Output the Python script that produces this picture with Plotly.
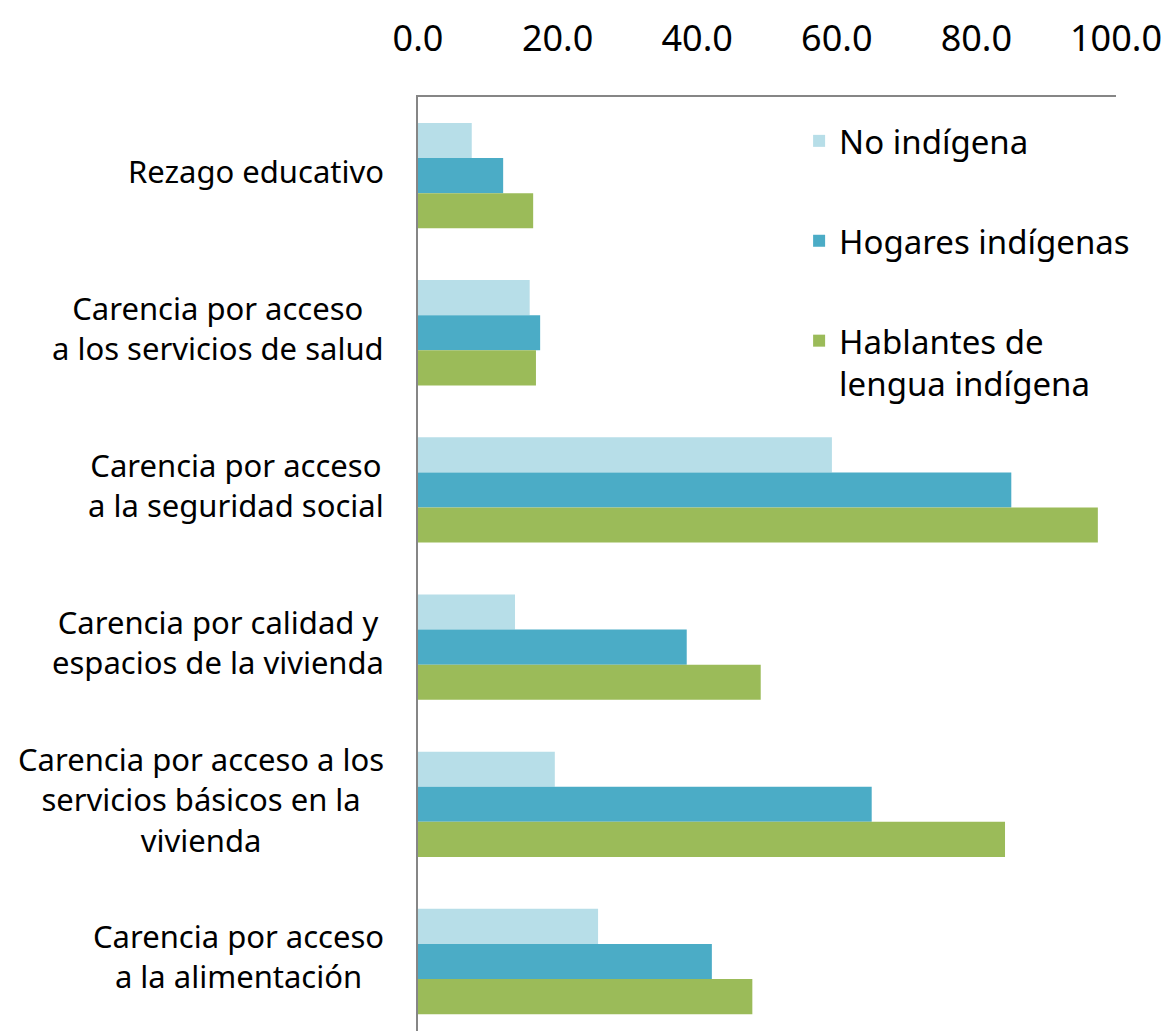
import plotly.graph_objects as go

categories = [
    "Rezago educativo",
    "Carencia por acceso<br>a los servicios de salud",
    "Carencia por acceso<br>a la seguridad social",
    "Carencia por calidad y<br>espacios de la vivienda",
    "Carencia por acceso a los<br>servicios básicos en la<br>vivienda",
    "Carencia por acceso<br>a la alimentación",
]
cat_ids = ["c0", "c1", "c2", "c3", "c4", "c5"]

no_indigena = [7.7, 16.0, 59.3, 13.9, 19.6, 25.8]
hogares_indigenas = [12.2, 17.5, 85.0, 38.5, 65.0, 42.1]
hablantes = [16.5, 16.9, 97.4, 49.1, 84.1, 47.9]

series_names = ["No indígena", "Hogares indígenas", "Hablantes de<br>lengua indígena"]
series_colors = ["#B7DEE8", "#4BACC6", "#9BBB59"]
series_values = [no_indigena, hogares_indigenas, hablantes]

tick_vals = [0, 20, 40, 60, 80, 100]
tick_text = ["0.0", "20.0", "40.0", "60.0", "80.0", "100.0"]

FONT = "Noto Sans"

fig = go.Figure()
for i, (name, color, vals) in enumerate(zip(series_names, series_colors, series_values)):
    fig.add_trace(go.Bar(
        y=cat_ids, x=vals, name=name, orientation="h",
        marker=dict(color=color, line=dict(width=0)),
        legendgroup=f"g{i}",
    ))

annotations = []
for cid, label in zip(cat_ids, categories):
    annotations.append(dict(
        x=-0.046, xref="paper", y=cid, yref="y", yshift=5,
        text=label, showarrow=False, xanchor="right", yanchor="middle",
        align="center", font=dict(family=FONT, size=31, color="#000000"),
    ))

fig.update_layout(
    width=1172, height=1031,
    margin=dict(l=410, r=64, t=89, b=6, pad=0),
    paper_bgcolor="white", plot_bgcolor="white",
    barmode="group", bargap=0.33, bargroupgap=0,
    font=dict(family=FONT, size=31, color="#000000"),
    showlegend=True,
    legend=dict(
        x=0.546, xanchor="left", y=0.983, yanchor="top",
        font=dict(family=FONT, size=33, color="#000000"),
        tracegroupgap=54, valign="top", bgcolor="rgba(0,0,0,0)",
        itemwidth=30,
    ),
    annotations=annotations,
)

fig.update_xaxes(
    side="top", range=[0, 100], tickvals=tick_vals, ticktext=tick_text,
    showgrid=False, zeroline=False, showline=True, linecolor="#868686", linewidth=2,
    ticks="outside", ticklen=30, tickcolor="rgba(0,0,0,0)",
    tickfont=dict(family=FONT, size=36, color="#000000"),
)
fig.update_yaxes(
    range=[5.455, -0.5], showgrid=False, zeroline=False, showline=True,
    linecolor="#868686", linewidth=2, showticklabels=False, ticks="",
)

fig.write_html("out.html")
